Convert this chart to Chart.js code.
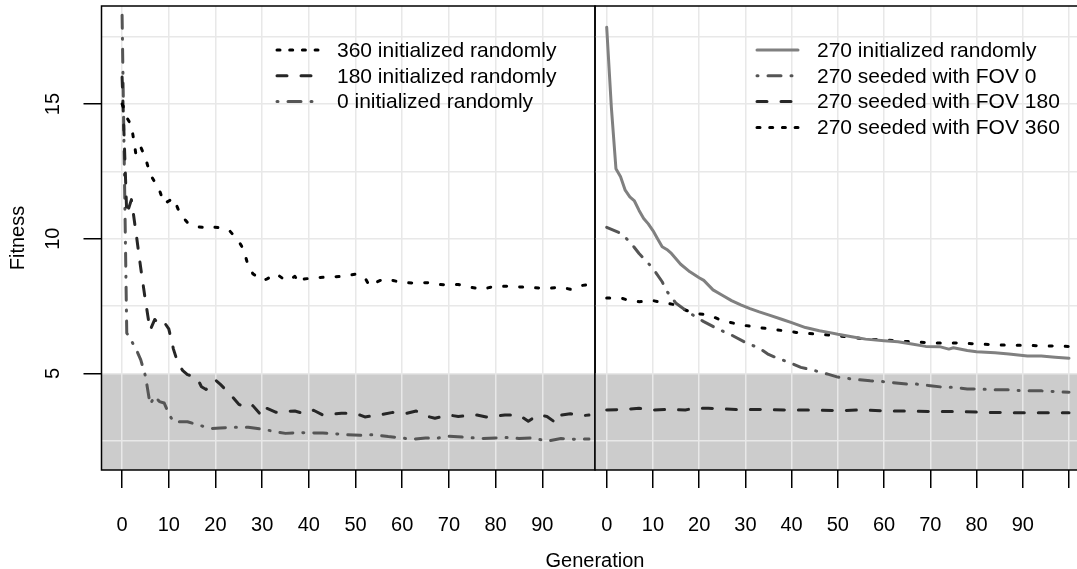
<!DOCTYPE html>
<html>
<head>
<meta charset="utf-8">
<script src="https://cdn.jsdelivr.net/npm/chart.js@4.4.1/dist/chart.umd.min.js"></script>
<style>
  body { margin: 0; background: #fff; overflow: hidden; }
  #wrap { position: relative; width: 1077px; height: 569px; }
  canvas { position: absolute; top: 0; }
  #left { left: 0; }
  #right { left: 590px; }
  #xtitle { position: absolute; left: 495px; width: 200px; top: 548px; text-align: center;
            font: 20px/24px "Liberation Sans", Arial, sans-serif; color: #000; }
</style>
</head>
<body>
<div id="wrap">
  <canvas id="left" width="596" height="569"></canvas>
  <canvas id="right" width="487" height="569"></canvas>
  <div id="xtitle">Generation</div>
</div>
<script>
// tick positions / labels
const genTicksLeft = [0, 10, 20, 30, 40, 50, 60, 70, 80, 90]
const genTicksRight = [0, 10, 20, 30, 40, 50, 60, 70, 80, 90, 100]
const genLabels = [0, 10, 20, 30, 40, 50, 60, 70, 80, 90]
const fitnessGrid = [2.5, 5, 7.5, 10, 12.5, 15, 17.5]
const fitnessLabels = [5, 10, 15]
const fitnessThreshold = 5

// left panel: [generation, fitness]
const labelsLeft = ["360 initialized randomly", "180 initialized randomly", "0 initialized randomly"]
const rand360 = [[0,15.0],[1,14.5],[2,14.2],[3,13.1],[4,13.4],[5,13.0],[6,12.4],[7,12.1],[8,11.8],[9,11.3],[10,11.4],
  [11,11.5],[12,11.1],[13,10.8],[14,10.6],[16,10.45],[18,10.4],[19,10.45],[21,10.4],[23,10.3],[24,10.1],[25,9.9],
  [26,9.6],[27,9.0],[28,8.7],[30,8.45],[31,8.5],[33,8.7],[35,8.45],[36,8.5],[37,8.6],[38,8.35],[39,8.5],[41,8.55],
  [44,8.57],[47,8.6],[50,8.68],[52,8.55],[53,8.25],[54,8.35],[56,8.5],[58,8.45],[60,8.37],[63,8.35],[66,8.37],
  [68,8.3],[70,8.28],[72,8.3],[74,8.22],[77,8.12],[79,8.2],[81,8.24],[84,8.22],[86,8.2],[88,8.18],[91,8.15],
  [94,8.2],[96,8.12],[98,8.25],[100,8.3]]
const rand180 = [[0,16.0],[1,10.9],[2,11.45],[3,10.2],[4,8.9],[5,7.7],[6,6.6],[7,7.0],[8,6.8],[9,6.9],[10,6.65],
  [11,5.9],[12,5.35],[13,5.1],[14,4.95],[16,4.85],[17,4.5],[18,4.4],[20,4.75],[21,4.6],[23,4.25],[25,3.85],[27,3.7],
  [28,3.8],[30,3.4],[31,3.7],[33,3.55],[34,3.58],[37,3.6],[39,3.5],[41,3.63],[43,3.45],[45,3.48],[47,3.52],[49,3.52],
  [51,3.45],[52,3.38],[55,3.45],[58,3.55],[61,3.52],[63,3.6],[65,3.42],[67,3.33],[70,3.45],[72,3.4],[76,3.45],
  [78,3.38],[82,3.45],[85,3.45],[87,3.22],[89,3.45],[91,3.4],[93,3.15],[94,3.45],[96,3.5],[98,3.42],[100,3.45]]
const rand0 = [[0,18.3],[1,6.5],[2,6.2],[3,5.9],[4,5.5],[5,4.9],[6,3.85],[7,4.15],[8,3.95],[9,3.9],[10,3.5],[11,3.2],
  [14,3.2],[16,3.1],[17,3.05],[18,3.0],[19,2.95],[21,2.97],[24,3.0],[27,3.0],[29,2.95],[31,2.9],[33,2.82],[35,2.77],
  [38,2.8],[43,2.78],[46,2.75],[48,2.72],[51,2.7],[54,2.72],[57,2.65],[60,2.6],[62,2.55],[65,2.6],[67,2.58],[70,2.66],
  [74,2.62],[77,2.58],[80,2.6],[82,2.62],[85,2.58],[88,2.6],[90,2.52],[91,2.48],[94,2.58],[97,2.55],[100,2.56]]

// right panel
const labelsRight = ["270 initialized randomly", "270 seeded with FOV 0", "270 seeded with FOV 180", "270 seeded with FOV 360"]
const rand270 = [[0,17.85],[1,14.9],[2,12.6],[3,12.3],[4,11.8],[5,11.55],[6,11.4],[7,11.05],[8,10.75],[9,10.55],
  [10,10.3],[11,10.0],[12,9.7],[13,9.6],[14,9.45],[16,9.05],[18,8.77],[20,8.55],[21,8.45],[23,8.1],[25,7.9],[27,7.7],
  [29,7.54],[31,7.4],[33,7.28],[35,7.17],[38,7.0],[40,6.88],[43,6.7],[46,6.58],[48,6.52],[50,6.45],[53,6.36],
  [56,6.27],[60,6.21],[63,6.17],[66,6.09],[69,6.0],[72,5.99],[74,5.9],[75,5.95],[78,5.85],[80,5.8],[84,5.76],
  [87,5.72],[91,5.64],[94,5.64],[97,5.6],[100,5.56]]
const fov0 = [[0,10.42],[3,10.2],[5,9.89],[7,9.45],[10,8.9],[12,8.4],[13,8.05],[15,7.6],[18,7.23],[21,6.92],[24,6.65],
  [27,6.42],[30,6.15],[33,5.93],[35,5.7],[37,5.56],[40,5.37],[42,5.22],[45,5.1],[48,4.96],[50,4.86],[53,4.79],
  [57,4.72],[60,4.69],[65,4.6],[67,4.6],[70,4.54],[73,4.48],[75,4.48],[78,4.42],[81,4.41],[84,4.39],[87,4.39],
  [90,4.35],[94,4.35],[97,4.32],[100,4.3]]
const fov180 = [[0,3.64],[4,3.66],[7,3.7],[10,3.64],[14,3.66],[17,3.64],[19,3.7],[22,3.7],[28,3.66],[33,3.66],
  [39,3.64],[45,3.64],[50,3.61],[55,3.64],[61,3.6],[66,3.6],[71,3.58],[76,3.58],[82,3.55],[88,3.54],[94,3.54],[100,3.54]]
const fov360 = [[0,7.8],[3,7.8],[5,7.7],[7,7.66],[10,7.7],[13,7.6],[15,7.54],[17,7.35],[19,7.23],[22,7.17],[25,6.96],
  [29,6.8],[33,6.7],[37,6.61],[41,6.52],[45,6.46],[48,6.42],[52,6.36],[56,6.27],[60,6.24],[63,6.2],[68,6.15],
  [71,6.13],[75,6.13],[79,6.1],[83,6.07],[87,6.04],[91,6.04],[94,6.02],[100,6.0]]

const FONT = "'Liberation Sans', Arial, sans-serif"
Chart.defaults.font.family = FONT
Chart.defaults.color = "#000"

const styles = {
  dotted:  { borderColor: "#000000", borderDash: [3, 13], legendDash: [3, 9.7] },
  dashed:  { borderColor: "#262626", borderDash: [10, 14], legendDash: [10, 14] },
  dashdot: { borderColor: "#555555", borderDash: [13, 10, 1, 10], legendDash: [1, 10, 13, 10] },
  solid:   { borderColor: "#808080", borderDash: [], legendDash: [] }
}

const toXY = (pairs) => pairs.map(p => ({ x: p[0], y: p[1] }))

const makeSet = (label, pairs, style) => ({
  label: label,
  data: toXY(pairs),
  borderWidth: 3,
  borderCapStyle: "round",
  borderJoinStyle: "round",
  pointRadius: 0,
  tension: 0,
  fill: false,
  ...styles[style]
})

// grey band under the threshold, drawn before the grid
const shadePlugin = {
  id: "shade",
  beforeDraw(chart, args, opts) {
    const { ctx, chartArea: a, scales } = chart
    const top = scales.y.getPixelForValue(opts.below)
    ctx.save()
    ctx.fillStyle = opts.color
    ctx.fillRect(a.left, top, a.right - a.left, a.bottom - top)
    ctx.restore()
  }
}

const boxPlugin = {
  id: "box",
  afterDraw(chart, args, opts) {
    const { ctx, chartArea: a } = chart
    ctx.save()
    ctx.strokeStyle = "#000"
    ctx.lineWidth = 1.5
    ctx.beginPath()
    if (opts.openRight) {
      ctx.moveTo(a.right + 2, a.top)
      ctx.lineTo(a.left, a.top)
      ctx.lineTo(a.left, a.bottom)
      ctx.lineTo(a.right + 2, a.bottom)
    } else {
      ctx.rect(a.left, a.top, a.right - a.left, a.bottom - a.top)
    }
    ctx.stroke()
    ctx.restore()
  }
}

const legendPlugin = {
  id: "inLegend",
  afterDraw(chart, args, opts) {
    const ctx = chart.ctx
    chart.data.datasets.forEach((ds, i) => {
      const y = opts.top + i * opts.rowHeight
      ctx.save()
      ctx.strokeStyle = ds.borderColor
      ctx.lineWidth = ds.borderWidth
      ctx.lineCap = "round"
      ctx.setLineDash(ds.legendDash)
      ctx.beginPath()
      ctx.moveTo(opts.lineStart, y)
      ctx.lineTo(opts.lineEnd, y)
      ctx.stroke()
      ctx.setLineDash([])
      ctx.fillStyle = "#000"
      ctx.font = "21px " + FONT
      ctx.textBaseline = "middle"
      ctx.fillText(ds.label, opts.textStart, y + 1)
      ctx.restore()
    })
  }
}

const noPad = (scale) => {
  scale.paddingLeft = 0
  scale.paddingRight = 0
  scale.paddingTop = 0
  scale.paddingBottom = 0
}

const xScale = (min, max, ticks) => ({
  type: "linear",
  min: min,
  max: max,
  afterBuildTicks: (scale) => { scale.ticks = ticks.map(v => ({ value: v })) },
  afterFit: (scale) => { scale.height = 99; noPad(scale) },
  grid: { color: "#e8e8e8", lineWidth: 1.5, tickColor: "#000", tickWidth: 1.5, tickLength: 18 },
  border: { display: false },
  ticks: {
    autoSkip: false, maxRotation: 0, padding: 25, font: { size: 20 }, color: "#000",
    callback: (v) => genLabels.includes(v) ? String(v) : ""
  }
})

const baseOptions = {
  responsive: false,
  animation: false,
  devicePixelRatio: 1,
  events: [],
  plugins: { legend: { display: false }, tooltip: { enabled: false } }
}

new Chart(document.getElementById("left"), {
  type: "line",
  data: {
    datasets: [
      makeSet(labelsLeft[0], rand360, "dotted"),
      makeSet(labelsLeft[1], rand180, "dashed"),
      makeSet(labelsLeft[2], rand0, "dashdot")
    ]
  },
  plugins: [shadePlugin, boxPlugin, legendPlugin],
  options: {
    ...baseOptions,
    layout: { padding: { top: 6, right: 1, bottom: 0, left: 0 } },
    plugins: {
      ...baseOptions.plugins,
      shade: { below: fitnessThreshold, color: "#cccccc" },
      box: { openRight: false },
      inLegend: { top: 50, rowHeight: 25.8, lineStart: 277, lineEnd: 318, textStart: 337 }
    },
    scales: {
      x: xScale(-4.41, 101.29, genTicksLeft),
      y: {
        type: "linear",
        min: 1.41,
        max: 18.64,
        afterBuildTicks: (scale) => { scale.ticks = fitnessGrid.map(v => ({ value: v })) },
        afterFit: (scale) => { scale.width = 101.5; noPad(scale) },
        grid: {
          color: "#e8e8e8", lineWidth: 1.5, tickWidth: 1.5, tickLength: 18,
          tickColor: (c) => fitnessLabels.includes(c.tick.value) ? "#000" : "rgba(0,0,0,0)"
        },
        border: { display: false },
        ticks: {
          minRotation: 90, maxRotation: 90, crossAlign: "center", padding: 19,
          font: { size: 20 }, color: "#000",
          callback: (v) => fitnessLabels.includes(v) ? String(v) : ""
        },
        title: { display: true, text: "Fitness", font: { size: 20 }, color: "#000", padding: { top: 6, bottom: 0 } }
      }
    }
  }
})

new Chart(document.getElementById("right"), {
  type: "line",
  data: {
    datasets: [
      makeSet(labelsRight[0], rand270, "solid"),
      makeSet(labelsRight[1], fov0, "dashdot"),
      makeSet(labelsRight[2], fov180, "dashed"),
      makeSet(labelsRight[3], fov360, "dotted")
    ]
  },
  plugins: [shadePlugin, boxPlugin, legendPlugin],
  options: {
    ...baseOptions,
    layout: { padding: { top: 6, right: 0, bottom: 0, left: 5 } },
    plugins: {
      ...baseOptions.plugins,
      shade: { below: fitnessThreshold, color: "#cccccc" },
      box: { openRight: true },
      inLegend: { top: 50, rowHeight: 25.8, lineStart: 167, lineEnd: 208, textStart: 227 }
    },
    scales: {
      x: xScale(-2.53, 101.73, genTicksRight),
      y: {
        type: "linear",
        min: 1.41,
        max: 18.64,
        afterBuildTicks: (scale) => { scale.ticks = fitnessGrid.map(v => ({ value: v })) },
        afterFit: (scale) => { scale.width = 0; noPad(scale) },
        grid: { color: "#e8e8e8", lineWidth: 1.5, drawTicks: false },
        border: { display: false },
        ticks: { display: false }
      }
    }
  }
})
</script>
</body>
</html>
